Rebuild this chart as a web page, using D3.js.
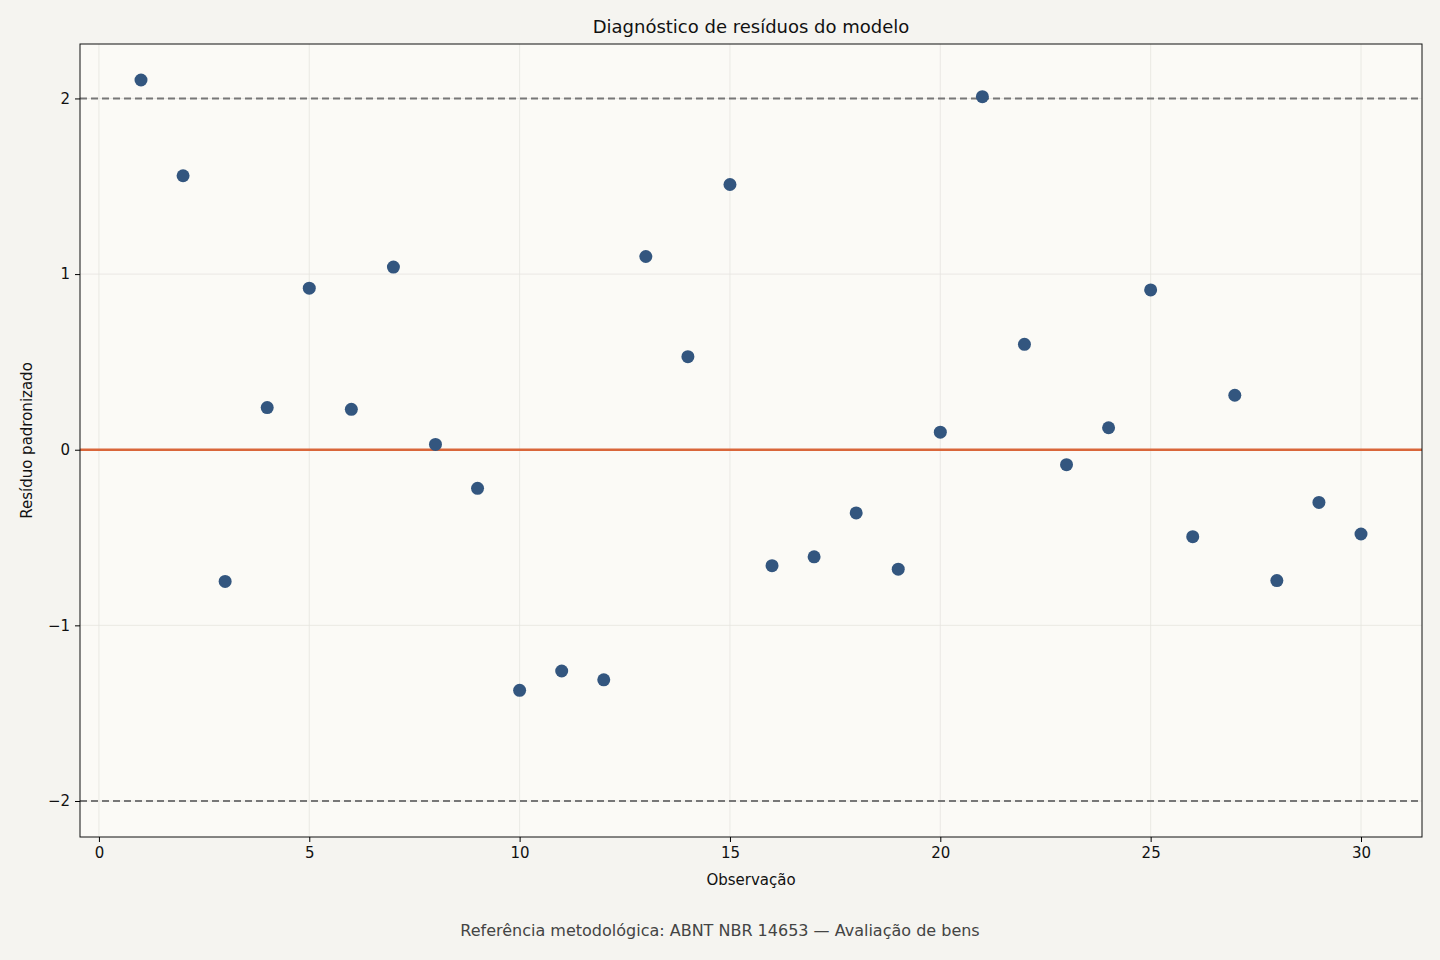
<!DOCTYPE html>
<html><head><meta charset="utf-8">
<script src="https://cdn.jsdelivr.net/npm/d3@7"></script>
<style>body{margin:0;background:#f5f4f0;}svg{display:block;font-family:"DejaVu Sans",sans-serif;}</style>
</head><body><svg id="c" width="1440" height="960"></svg>
<script>
const observations = d3.range(1, 31);
const residuals = [2.105,1.56,-0.75,0.24,0.92,0.23,1.04,0.03,-0.22,-1.37,-1.26,-1.31,1.10,0.53,1.51,-0.66,-0.61,-0.36,-0.68,0.10,2.01,0.60,-0.085,0.125,0.91,-0.495,0.31,-0.745,-0.30,-0.48];
const xTicks = [0,5,10,15,20,25,30];
const yTicks = [-2,-1,0,1,2];
const refLines = [2,-2];

const svg = d3.select("#c");
const L=80,R=1422,T=44,B=837;
const x = d3.scaleLinear().domain([-0.45,31.45]).range([L,R]);
const y = d3.scaleLinear().domain([-2.205,2.31]).range([B,T]);
svg.append("rect").attr("width",1440).attr("height",960).attr("fill","#f5f4f0");
svg.append("rect").attr("x",L).attr("y",T).attr("width",R-L).attr("height",B-T).attr("fill","#fbfaf6");
const g = svg.append("g");
xTicks.forEach(t=>g.append("line").attr("x1",x(t)).attr("x2",x(t)).attr("y1",T).attr("y2",B).attr("stroke","#e6e4df").attr("stroke-width",0.8));
yTicks.forEach(t=>g.append("line").attr("y1",y(t)).attr("y2",y(t)).attr("x1",L).attr("x2",R).attr("stroke","#e6e4df").attr("stroke-width",0.8));
refLines.forEach(v=>g.append("line").attr("x1",L).attr("x2",R).attr("y1",y(v)).attr("y2",y(v)).attr("stroke","#777").attr("stroke-width",2).attr("stroke-dasharray","7,4"));
g.append("line").attr("x1",L).attr("x2",R).attr("y1",y(0)).attr("y2",y(0)).attr("stroke","#d9663a").attr("stroke-width",2.5);
g.selectAll("circle").data(observations).join("circle").attr("cx",d=>x(d)).attr("cy",(d,i)=>y(residuals[i])).attr("r",6.5).attr("fill","#33567f");
svg.append("rect").attr("x",L).attr("y",T).attr("width",R-L).attr("height",B-T).attr("fill","none").attr("stroke","#111").attr("stroke-width",1);
const fmt = d=>String(d).replace("-","\u2212");
svg.append("g").attr("transform",`translate(0,${B})`).call(d3.axisBottom(x).tickValues(xTicks).tickFormat(fmt).tickSize(5).tickPadding(5))
 .call(a=>{a.select(".domain").remove();a.selectAll("text").attr("font-size",15).attr("fill","#111").attr("font-family","DejaVu Sans");});
svg.append("g").attr("transform",`translate(${L},0)`).call(d3.axisLeft(y).tickValues(yTicks).tickFormat(fmt).tickSize(5).tickPadding(5))
 .call(a=>{a.select(".domain").remove();a.selectAll("text").attr("font-size",15).attr("fill","#111").attr("font-family","DejaVu Sans");});
svg.append("text").attr("x",(L+R)/2).attr("y",33).attr("text-anchor","middle").attr("font-size",18).attr("fill","#111").text("Diagnóstico de resíduos do modelo");
svg.append("text").attr("x",(L+R)/2).attr("y",885).attr("text-anchor","middle").attr("font-size",15).attr("fill","#111").text("Observação");
svg.append("text").attr("transform",`translate(32,${(T+B)/2}) rotate(-90)`).attr("text-anchor","middle").attr("font-size",15).attr("fill","#111").text("Resíduo padronizado");
svg.append("text").attr("x",720).attr("y",936).attr("text-anchor","middle").attr("font-size",16).attr("fill","#444").text("Referência metodológica: ABNT NBR 14653 — Avaliação de bens");
</script></body></html>
